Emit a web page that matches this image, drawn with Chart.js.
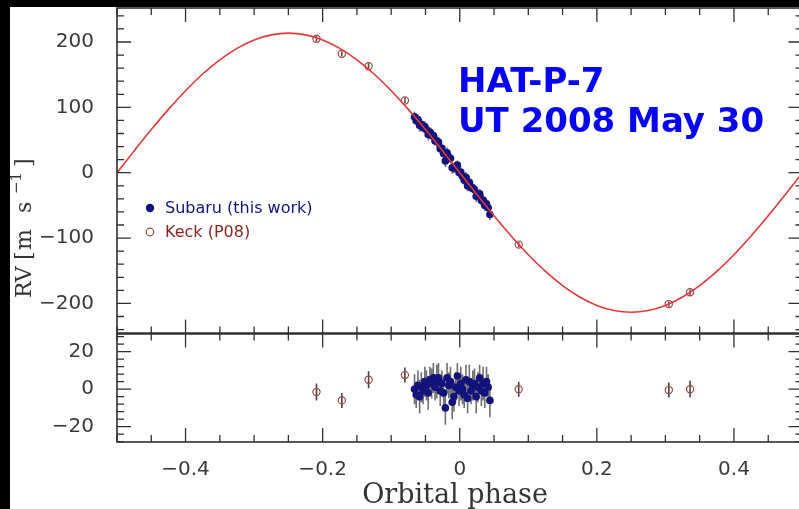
<!DOCTYPE html>
<html>
<head>
<meta charset="utf-8">
<title>HAT-P-7 radial velocities</title>
<script src="https://cdn.jsdelivr.net/npm/chart.js@4.4.1/dist/chart.umd.min.js"></script>
<style>
  html, body { margin: 0; padding: 0; background: #000; overflow: hidden; width: 799px; height: 509px; }
  #wrap { position: absolute; left: 10px; top: 7px; width: 800px; height: 502px; background: #fff; }
  canvas { display: block; }
</style>
</head>
<body>
<div id="wrap"><canvas id="rv" width="800" height="502"></canvas></div>
<script>
// orbit model, sampled every 0.025 in phase
const modelPhase = [-0.5, -0.475, -0.45, -0.425, -0.4, -0.375, -0.35, -0.325, -0.3, -0.275,
  -0.25, -0.225, -0.2, -0.175, -0.15, -0.125, -0.1, -0.075, -0.05, -0.025, 0,
  0.025, 0.05, 0.075, 0.1, 0.125, 0.15, 0.175, 0.2, 0.225, 0.25,
  0.275, 0.3, 0.325, 0.35, 0.375, 0.4, 0.425, 0.45, 0.475, 0.5];
const modelRV = [0, 33.4, 66.0, 96.9, 125.5, 151.0, 172.7, 190.2, 203.1, 210.9,
  213.5, 210.9, 203.1, 190.2, 172.7, 151.0, 125.5, 96.9, 66.0, 33.4, 0,
  -33.4, -66.0, -96.9, -125.5, -151.0, -172.7, -190.2, -203.1, -210.9, -213.5,
  -210.9, -203.1, -190.2, -172.7, -151.0, -125.5, -96.9, -66.0, -33.4, 0];

// Subaru HDS, night of 2008 May 30
const subaruPhase = [-0.066, -0.0635, -0.061, -0.0585, -0.056, -0.0535, -0.051, -0.0485, -0.046,
  -0.0435, -0.041, -0.0385, -0.036, -0.0335, -0.031, -0.0285, -0.026, -0.0235, -0.021, -0.0185,
  -0.016, -0.0135, -0.011, -0.0085, -0.006, -0.0035, -0.001, 0.0015, 0.004, 0.0065, 0.009,
  0.0115, 0.014, 0.0165, 0.019, 0.0215, 0.024, 0.0265, 0.029, 0.0315, 0.034, 0.0365, 0.039,
  0.0415, 0.044];
const subaruRV = [85.4, 79.4, 81.3, 72.2, 74.1, 68.9, 70.8, 65.6, 58.4, 62.2, 57.0, 56.8, 48.5,
  48.3, 47.0, 36.8, 37.5, 29.2, 17.9, 30.6, 23.3, 22.0, 7.6, 7.3, 9.0, 11.7, 0.3, 1.0, -5.3,
  -11.7, -7.0, -20.3, -14.6, -22.9, -23.3, -25.6, -35.9, -34.2, -32.4, -42.7, -42.0, -50.2,
  -47.5, -53.7, -63.9];
const subaruRes = [0, -3, 2, -4, 1, -1, 4, 2, -2, 5, 3, 6, 1, 4, 6, -1, 3, -2, -10, 6, 2, 4, -7,
  -4, 1, 7, -1, 3, 0, -3, 5, -5, 4, -1, 2, 3, -4, 1, 6, -1, 3, -2, 4, 1, -6];
const subaruErr = [8, 7, 8, 9, 8, 7, 8, 8, 9, 7, 8, 8, 7, 9, 8, 8, 7, 8, 9, 8, 7, 8, 9, 8, 8, 7,
  8, 9, 8, 7, 8, 8, 9, 7, 8, 8, 9, 8, 7, 8, 9, 8, 8, 7, 9];

// Keck HIRES (P08)
const keckPhase = [-0.209, -0.172, -0.133, -0.080, 0.086, 0.305, 0.336];
const keckRV = [205, 182, 163, 110.5, -110, -201, -183];
const keckRes = [-1.5, -6, 5, 7.5, 0, -0.5, 0];
const keckErr = [4.5, 4, 4.5, 4, 4, 4, 4.5];

const phaseTicks = [-0.4, -0.2, 0, 0.2, 0.4];
const rvTicks = [-200, -100, 0, 100, 200];
const resTicks = [-20, 0, 20];

const INK = '#2f2f2f';
const NAVY = '#13137c';
const BRICK = '#a24444';
const MAJOR = 14, MINOR = 7;

const minus = v => (v < 0 ? '\u2212' : '') + Math.abs(v);

function errorBars(ctx, xs, ys, px, py, err, color) {
  ctx.strokeStyle = color;
  ctx.lineWidth = 1.6;
  ctx.beginPath();
  px.forEach((p, i) => {
    const x = xs.getPixelForValue(p);
    ctx.moveTo(x, ys.getPixelForValue(py[i] - err[i]));
    ctx.lineTo(x, ys.getPixelForValue(py[i] + err[i]));
  });
  ctx.stroke();
}

function phaseMarks(ctx, xs, edge, dir) {
  for (let k = 0; k <= 20; k++) {
    const v = Math.round((xs.min + k * 0.05) * 100) / 100;
    const len = phaseTicks.some(t => Math.abs(t - v) < 1e-6) ? MAJOR : MINOR;
    const x = xs.getPixelForValue(v);
    ctx.moveTo(x, edge);
    ctx.lineTo(x, edge + dir * len);
  }
}

function valueMarks(ctx, ys, step, majors, left, right) {
  for (let v = Math.ceil(ys.min / step) * step; v <= ys.max; v += step) {
    const len = majors.includes(v) ? MAJOR : MINOR;
    const y = ys.getPixelForValue(v);
    ctx.moveTo(left, y); ctx.lineTo(left + len, y);
    ctx.moveTo(right, y); ctx.lineTo(right - len, y);
  }
}

// keep tick labels from pushing the plot area inwards
function fixWidth(w) {
  return s => { s.width = w; s.paddingTop = 0; s.paddingBottom = 0; };
}

const decorations = {
  id: 'decorations',
  beforeDatasetsDraw(chart) {
    const {ctx, scales: {x, y, yr}} = chart;
    ctx.save();
    errorBars(ctx, x, y, subaruPhase, subaruRV, subaruErr, '#707070');
    errorBars(ctx, x, y, keckPhase, keckRV, keckErr, '#555');
    errorBars(ctx, x, yr, subaruPhase, subaruRes, subaruErr, '#707070');
    errorBars(ctx, x, yr, keckPhase, keckRes, keckErr, '#444');
    ctx.restore();
  },
  afterDraw(chart) {
    const {ctx, chartArea: a, scales: {x, y, yr}} = chart;
    ctx.save();

    // panel frames and tick marks
    ctx.strokeStyle = INK;
    ctx.lineWidth = 1.6;
    ctx.strokeRect(a.left, a.top, a.right - a.left, a.bottom - a.top);
    ctx.lineWidth = 2.6;
    ctx.beginPath();
    ctx.moveTo(a.left, y.bottom); ctx.lineTo(a.right, y.bottom);
    ctx.stroke();

    ctx.lineWidth = 1.3;
    ctx.beginPath();
    phaseMarks(ctx, x, y.top, 1);
    phaseMarks(ctx, x, y.bottom, -1);
    phaseMarks(ctx, x, yr.top, 1);
    phaseMarks(ctx, x, yr.bottom, -1);
    valueMarks(ctx, y, 20, rvTicks, a.left, a.right);
    valueMarks(ctx, yr, 4, resTicks, a.left, a.right);
    ctx.stroke();

    // axis titles
    ctx.fillStyle = '#333';
    ctx.textAlign = 'center';
    ctx.textBaseline = 'alphabetic';
    ctx.font = '27px "DejaVu Serif"';
    ctx.fillText('Orbital phase', 445, 496);

    ctx.save();
    ctx.translate(21, 291);
    ctx.rotate(-Math.PI / 2);
    ctx.textAlign = 'left';
    ctx.font = '22px "DejaVu Serif"';
    ctx.fillText('RV', 0, 0);
    ctx.fillText('[', 38, 0);
    ctx.fillText('m', 48, 0);
    ctx.fillText('s', 85, 0);
    ctx.fillText(']', 131, 0);
    ctx.font = '15px "DejaVu Serif"';
    ctx.fillText('\u22121', 104, -10);
    ctx.restore();

    // legend
    ctx.textAlign = 'left';
    ctx.textBaseline = 'middle';
    ctx.font = '16px "DejaVu Sans"';
    ctx.fillStyle = NAVY;
    ctx.beginPath(); ctx.arc(140, 201, 4.2, 0, Math.PI * 2); ctx.fill();
    ctx.fillText('Subaru (this work)', 155, 202);
    ctx.strokeStyle = BRICK;
    ctx.lineWidth = 1.2;
    ctx.beginPath(); ctx.arc(140, 225, 3.8, 0, Math.PI * 2); ctx.stroke();
    ctx.fillStyle = '#8c2424';
    ctx.fillText('Keck (P08)', 155, 226);

    // target and date
    ctx.fillStyle = '#0505f2';
    ctx.textBaseline = 'alphabetic';
    ctx.font = 'bold 34px "DejaVu Sans"';
    ctx.fillText('HAT-P-7', 448, 85);
    ctx.fillText('UT 2008 May 30', 448, 125);
    ctx.restore();
  }
};

const pts = (xs, ys) => xs.map((v, i) => ({x: v, y: ys[i]}));
const tickFont = {family: 'DejaVu Sans', size: 20};

new Chart(document.getElementById('rv'), {
  type: 'scatter',
  data: {
    datasets: [
      {
        type: 'line', label: 'model', data: pts(modelPhase, modelRV), yAxisID: 'y',
        borderColor: '#dc3a3a', borderWidth: 1.6, pointRadius: 0, fill: false,
        cubicInterpolationMode: 'monotone', order: 0
      },
      {
        label: 'Subaru (this work)', data: pts(subaruPhase, subaruRV), yAxisID: 'y',
        pointRadius: 3.8, backgroundColor: NAVY, borderColor: NAVY, borderWidth: 0, order: 2
      },
      {
        label: 'Keck (P08)', data: pts(keckPhase, keckRV), yAxisID: 'y',
        pointRadius: 3.6, backgroundColor: 'rgba(0,0,0,0)', borderColor: BRICK, borderWidth: 1.2, order: 1
      },
      {
        label: 'Subaru residuals', data: pts(subaruPhase, subaruRes), yAxisID: 'yr',
        pointRadius: 3.8, backgroundColor: NAVY, borderColor: NAVY, borderWidth: 0, order: 2
      },
      {
        label: 'Keck residuals', data: pts(keckPhase, keckRes), yAxisID: 'yr',
        pointRadius: 3.6, backgroundColor: 'rgba(0,0,0,0)', borderColor: BRICK, borderWidth: 1.2, order: 1
      }
    ]
  },
  options: {
    responsive: false,
    devicePixelRatio: 1,
    animation: false,
    layout: {autoPadding: false, padding: {top: 1, right: 7.5, bottom: 0, left: 0}},
    plugins: {legend: {display: false}, tooltip: {enabled: false}},
    scales: {
      x: {
        type: 'linear', position: 'bottom', min: -0.5, max: 0.5,
        grid: {display: false}, border: {display: false},
        afterBuildTicks: s => { s.ticks = phaseTicks.map(v => ({value: v})); },
        afterFit: s => { s.height = 67; s.paddingLeft = 0; s.paddingRight = 0; },
        ticks: {
          font: tickFont, color: '#3a3a3a', padding: 8, maxRotation: 0,
          callback: v => v === 0 ? '0' : (v < 0 ? '\u2212' : '') + Math.abs(v).toFixed(1)
        }
      },
      // left boxes are stacked in reverse order, so the residual panel is listed first
      yr: {
        type: 'linear', position: 'left', stack: 'panels', stackWeight: 1,
        min: -28.2, max: 29.7,
        grid: {display: false}, border: {display: false},
        afterBuildTicks: s => { s.ticks = resTicks.map(v => ({value: v})); },
        afterFit: fixWidth(107),
        ticks: {font: tickFont, color: '#3a3a3a', padding: 15, callback: minus}
      },
      y: {
        type: 'linear', position: 'left', stack: 'panels', stackWeight: 3,
        min: -246, max: 252,
        grid: {display: false}, border: {display: false},
        afterBuildTicks: s => { s.ticks = rvTicks.map(v => ({value: v})); },
        afterFit: fixWidth(107),
        ticks: {font: tickFont, color: '#3a3a3a', padding: 15, callback: minus}
      }
    }
  },
  plugins: [decorations]
});
</script>
</body>
</html>
